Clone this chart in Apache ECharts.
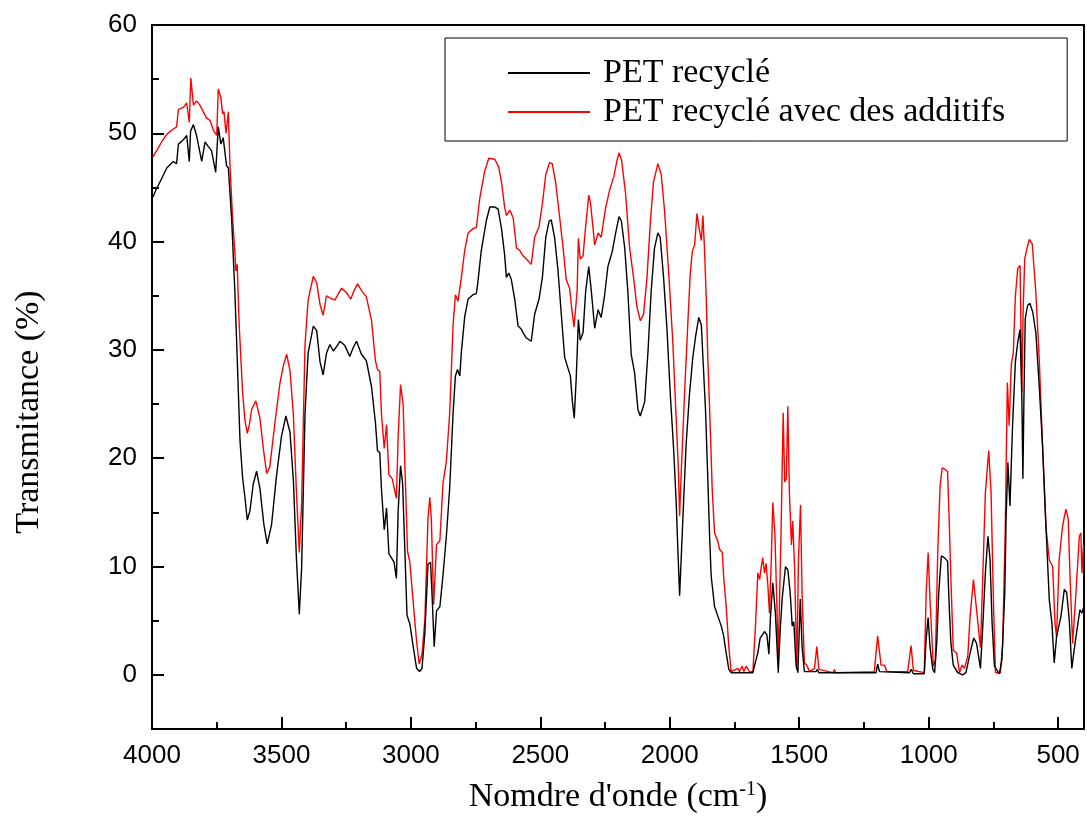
<!DOCTYPE html>
<html>
<head>
<meta charset="utf-8">
<script src="https://cdn.jsdelivr.net/npm/echarts@6/dist/echarts.min.js"></script>
<style>
  html, body { margin: 0; padding: 0; background: #fff; }
  #chart { width: 1087px; height: 830px; }
</style>
</head>
<body>
<div id="chart"></div>
<script>
// spectre IR
const seriesNames = ['PET recyclé', 'PET recyclé avec des additifs']

const blackWn = [3997, 3982, 3963, 3943, 3918, 3905, 3898, 3879, 3866, 3856, 3851, 3840, 3828, 3808, 3795, 3783, 3770, 3754, 3744, 3734, 3725, 3712, 3705, 3692, 3680, 3673, 3660, 3650, 3641, 3632, 3622, 3609, 3596, 3583, 3568, 3555, 3538, 3519, 3500, 3483, 3467, 3454, 3442, 3431, 3422, 3409, 3397, 3377, 3364, 3351, 3339, 3326, 3313, 3300, 3287, 3274, 3255, 3236, 3223, 3210, 3191, 3172, 3152, 3137, 3129, 3120, 3114, 3103, 3094, 3085, 3075, 3065, 3056, 3049, 3040, 3032, 3024, 3015, 3004, 2991, 2978, 2966, 2957, 2946, 2934, 2924, 2917, 2910, 2901, 2888, 2876, 2863, 2850, 2837, 2828, 2820, 2811, 2805, 2792, 2779, 2760, 2747, 2741, 2728, 2708, 2695, 2676, 2663, 2650, 2638, 2631, 2622, 2612, 2599, 2586, 2573, 2567, 2554, 2535, 2522, 2505, 2492, 2479, 2466, 2458, 2445, 2432, 2419, 2406, 2393, 2384, 2376, 2369, 2361, 2353, 2346, 2335, 2325, 2313, 2303, 2290, 2277, 2265, 2252, 2239, 2222, 2209, 2196, 2187, 2174, 2162, 2149, 2136, 2123, 2114, 2097, 2084, 2072, 2059, 2046, 2037, 2024, 2011, 1998, 1985, 1975, 1969, 1962, 1956, 1947, 1937, 1924, 1911, 1900, 1888, 1878, 1872, 1862, 1853, 1846, 1840, 1827, 1814, 1801, 1792, 1782, 1772, 1763, 1679, 1669, 1660, 1651, 1634, 1625, 1617, 1611, 1602, 1592, 1581, 1574, 1566, 1553, 1544, 1535, 1527, 1521, 1512, 1505, 1496, 1489, 1480, 1435, 1430, 1424, 1203, 1197, 1190, 1074, 1067, 1059, 1017, 1010, 1002, 995, 990, 984, 977, 969, 961, 951, 939, 927, 920, 914, 905, 888, 869, 856, 840, 826, 815, 800, 791, 781, 771, 763, 755, 746, 727, 717, 706, 701, 694, 686, 676, 665, 656, 647, 640, 636, 632, 627, 618, 609, 598, 586, 573, 560, 547, 534, 524, 515, 506, 489, 476, 467, 457, 447, 438, 425, 416, 408, 402]
const blackT = [44.1, 44.9, 45.8, 46.8, 47.4, 47.2, 49.0, 49.4, 49.8, 47.4, 50.2, 50.8, 49.8, 47.4, 49.2, 48.8, 48.4, 46.4, 50.6, 49.0, 49.6, 47.0, 46.8, 41.9, 35.4, 30.7, 21.6, 18.2, 16.4, 14.3, 15.1, 17.6, 18.8, 17.2, 13.9, 12.1, 13.9, 18.4, 22.0, 23.9, 22.4, 18.0, 10.7, 5.6, 9.9, 24.1, 29.7, 32.2, 31.8, 28.9, 27.7, 29.7, 30.5, 29.9, 30.3, 30.8, 30.4, 29.4, 30.2, 30.8, 29.6, 29.0, 26.6, 23.3, 20.7, 20.5, 17.3, 13.4, 15.4, 11.2, 10.8, 10.4, 8.9, 15.2, 19.3, 17.7, 12.0, 5.5, 4.7, 2.6, 0.6, 0.3, 0.6, 3.9, 10.2, 10.4, 6.7, 2.6, 5.9, 6.3, 9.2, 12.8, 17.3, 24.2, 27.6, 28.2, 27.6, 29.8, 33.1, 34.7, 35.1, 35.2, 36.3, 39.2, 42.0, 43.2, 43.2, 43.0, 41.2, 38.8, 36.7, 37.1, 36.5, 34.7, 32.2, 31.9, 31.6, 31.1, 30.8, 33.3, 34.7, 36.7, 40.4, 41.9, 42.0, 40.4, 37.4, 33.3, 29.3, 28.3, 27.6, 25.2, 23.7, 27.6, 32.8, 30.9, 31.6, 35.4, 37.7, 35.4, 32.0, 33.7, 33.0, 35.0, 37.7, 39.1, 40.8, 42.3, 41.9, 39.4, 35.4, 29.6, 27.9, 24.5, 23.9, 25.2, 29.9, 35.4, 39.4, 40.8, 40.4, 36.7, 32.0, 25.9, 20.8, 15.8, 11.7, 7.3, 10.7, 15.8, 21.2, 25.9, 29.3, 31.3, 33.0, 32.3, 29.3, 24.5, 18.0, 12.7, 9.1, 6.3, 5.4, 4.5, 3.6, 2.0, 0.5, 0.2, 0.2, 1.2, 2.0, 3.4, 4.0, 3.7, 1.9, 5.4, 8.5, 5.7, 0.2, 3.9, 7.0, 10.0, 9.7, 7.6, 4.5, 4.9, 0.8, 0.2, 7.0, 2.6, 0.3, 0.3, 0.5, 0.2, 0.2, 1.0, 0.3, 0.2, 0.5, 0.1, 0.1, 3.2, 5.3, 2.6, 2.5, 0.5, 0.2, 2.9, 7.6, 11.0, 10.8, 10.5, 6.0, 2.9, 0.9, 0.2, 0.0, 0.2, 2.0, 3.4, 2.9, 0.6, 4.5, 9.4, 12.8, 10.7, 4.8, 0.8, 0.1, 1.4, 7.6, 14.4, 19.6, 15.6, 23.0, 28.9, 30.7, 31.9, 25.5, 18.1, 25.5, 32.9, 34.1, 34.3, 33.5, 31.6, 26.7, 21.1, 13.7, 6.9, 4.8, 1.1, 3.5, 5.4, 7.9, 7.6, 5.1, 0.6, 2.3, 4.5, 6.0, 5.7, 6.2]

const redWn = [3997, 3982, 3963, 3943, 3918, 3905, 3898, 3879, 3866, 3856, 3850, 3840, 3828, 3815, 3802, 3789, 3776, 3761, 3750, 3744, 3734, 3727, 3722, 3714, 3705, 3699, 3689, 3680, 3676, 3671, 3663, 3650, 3641, 3632, 3624, 3615, 3599, 3583, 3570, 3557, 3545, 3525, 3506, 3493, 3480, 3467, 3454, 3442, 3431, 3422, 3409, 3397, 3377, 3364, 3351, 3339, 3326, 3313, 3294, 3268, 3249, 3232, 3219, 3206, 3191, 3172, 3152, 3137, 3129, 3120, 3114, 3103, 3094, 3085, 3072, 3065, 3056, 3049, 3040, 3030, 3021, 3013, 3004, 2991, 2978, 2968, 2957, 2946, 2934, 2927, 2921, 2912, 2901, 2888, 2876, 2863, 2850, 2837, 2828, 2818, 2805, 2792, 2779, 2760, 2747, 2734, 2715, 2699, 2676, 2661, 2650, 2638, 2631, 2618, 2605, 2592, 2580, 2567, 2554, 2535, 2522, 2505, 2492, 2479, 2464, 2454, 2441, 2428, 2412, 2400, 2387, 2378, 2370, 2358, 2353, 2346, 2335, 2325, 2313, 2306, 2290, 2277, 2265, 2248, 2232, 2216, 2204, 2196, 2186, 2171, 2155, 2140, 2127, 2114, 2101, 2088, 2075, 2063, 2046, 2033, 2020, 2003, 1988, 1975, 1967, 1962, 1955, 1943, 1930, 1921, 1913, 1904, 1895, 1888, 1878, 1872, 1866, 1859, 1853, 1846, 1836, 1827, 1814, 1808, 1797, 1792, 1782, 1772, 1763, 1737, 1731, 1720, 1714, 1705, 1692, 1679, 1669, 1660, 1653, 1647, 1641, 1634, 1628, 1621, 1615, 1608, 1602, 1594, 1581, 1571, 1562, 1556, 1550, 1544, 1538, 1530, 1525, 1518, 1509, 1503, 1495, 1489, 1480, 1471, 1460, 1441, 1432, 1424, 1370, 1364, 1358, 1210, 1197, 1184, 1171, 1162, 1081, 1068, 1059, 1017, 1010, 1002, 995, 990, 982, 974, 965, 956, 948, 939, 927, 920, 914, 905, 892, 881, 871, 862, 849, 840, 827, 815, 800, 791, 781, 768, 759, 749, 742, 723, 714, 704, 696, 689, 681, 673, 665, 656, 647, 640, 635, 629, 618, 611, 600, 586, 573, 560, 547, 534, 521, 512, 506, 496, 483, 470, 461, 454, 444, 431, 418, 412, 408, 402]
const redT = [47.8, 48.4, 49.2, 49.9, 50.4, 50.6, 52.2, 52.4, 52.8, 51.0, 55.1, 52.6, 53.0, 52.6, 52.0, 51.4, 51.2, 50.2, 49.8, 54.1, 53.3, 51.8, 52.0, 50.0, 52.0, 47.2, 42.3, 39.1, 37.3, 37.9, 32.2, 26.1, 23.5, 22.3, 23.1, 24.5, 25.3, 23.7, 20.9, 18.6, 19.2, 23.3, 26.9, 28.5, 29.6, 28.1, 24.1, 16.8, 11.3, 15.9, 30.5, 34.6, 36.8, 36.2, 34.2, 33.2, 35.0, 34.8, 34.6, 35.7, 35.3, 34.7, 35.5, 36.1, 35.5, 34.9, 32.7, 29.0, 28.2, 28.0, 24.2, 20.9, 23.1, 18.5, 18.1, 18.1, 16.3, 22.1, 26.8, 25.0, 17.7, 11.4, 10.4, 6.7, 3.1, 1.0, 1.9, 5.1, 14.4, 16.4, 14.4, 6.5, 12.0, 12.4, 17.7, 19.7, 24.2, 32.3, 35.1, 34.5, 36.7, 39.2, 40.8, 41.2, 41.3, 44.0, 46.5, 47.7, 47.6, 46.9, 45.5, 43.2, 42.4, 42.9, 42.2, 39.4, 39.2, 38.7, 38.4, 37.9, 40.4, 41.4, 43.5, 46.2, 47.3, 47.2, 45.5, 42.8, 39.4, 36.5, 35.7, 33.7, 32.1, 35.4, 40.3, 38.4, 38.7, 41.4, 44.3, 43.5, 39.7, 40.8, 40.4, 43.1, 44.8, 46.0, 47.5, 48.2, 47.5, 44.5, 39.4, 36.7, 34.0, 32.7, 33.3, 36.7, 41.8, 45.5, 47.2, 46.2, 42.8, 36.7, 30.6, 23.5, 19.1, 14.7, 19.1, 25.9, 32.6, 37.0, 39.1, 39.7, 42.6, 41.4, 40.1, 42.4, 39.4, 34.7, 29.2, 24.5, 17.1, 13.1, 12.3, 11.6, 11.3, 9.1, 6.3, 2.6, 0.3, 0.6, 0.3, 0.8, 0.3, 0.8, 0.3, 0.3, 4.5, 9.4, 8.8, 9.9, 10.8, 9.4, 10.3, 8.2, 5.7, 10.6, 15.9, 13.1, 1.7, 12.2, 24.2, 17.8, 18.1, 24.8, 16.8, 12.0, 14.2, 10.0, 0.5, 10.6, 15.7, 7.6, 1.1, 0.9, 0.3, 0.6, 2.6, 0.5, 0.2, 0.5, 0.2, 0.3, 3.6, 0.9, 0.9, 0.3, 0.3, 2.7, 0.4, 0.2, 7.3, 11.3, 7.0, 7.0, 0.8, 1.4, 11.3, 17.4, 19.1, 19.0, 18.8, 13.7, 8.8, 2.3, 2.0, 0.2, 0.9, 0.6, 1.7, 5.4, 8.8, 6.0, 2.5, 9.1, 16.8, 20.7, 16.8, 6.0, 0.2, 0.2, 2.9, 13.7, 27.0, 23.0, 28.6, 29.8, 35.0, 37.5, 37.8, 26.1, 33.8, 38.4, 39.6, 40.2, 39.8, 35.3, 29.2, 21.1, 13.7, 10.6, 10.0, 4.8, 3.5, 10.6, 13.7, 15.3, 14.4, 9.1, 2.9, 7.6, 12.8, 13.1, 9.4, 12.0]

const xLabels = [4000, 3500, 3000, 2500, 2000, 1500, 1000, 500]
const yLabels = [0, 10, 20, 30, 40, 50, 60]
const xMajorTicks = [3500, 3000, 2500, 2000, 1500, 1000, 500]
const xMinorTicks = [3750, 3250, 2750, 2250, 1750, 1250, 750]
const yMajorTicks = [0, 10, 20, 30, 40, 50]
const yMinorTicks = [5, 15, 25, 35, 45, 55]

const pairs = (xs, ys) => xs.map((x, i) => [x, ys[i]])

const sansFont = '"Liberation Sans", Arial, sans-serif'
const serifFont = '"Liberation Serif", "Times New Roman", serif'

const myChart = echarts.init(document.getElementById('chart'), null, { renderer: 'canvas' })

const baseX = {
  type: 'value',
  inverse: true,
  min: 400,
  max: 4000,
  gridIndex: 0,
  position: 'bottom',
  splitLine: { show: false }
}
const baseY = {
  type: 'value',
  min: -5,
  max: 60,
  gridIndex: 0,
  position: 'left',
  splitLine: { show: false }
}
const tickStyle = { color: '#000', width: 2 }
// axe qui ne porte que des graduations (offset négatif = décalé vers l'intérieur)
const tickAxis = (base, values, len, offset) => Object.assign({}, base, {
  offset: offset || 0,
  axisLine: { show: false, onZero: false },
  axisTick: { show: true, inside: true, length: len, customValues: values, lineStyle: tickStyle },
  axisLabel: { show: false }
})

const option = {
  animation: false,
  backgroundColor: '#fff',
  grid: {
    left: 152,
    right: 3,
    top: 25,
    bottom: 101,
    show: true,
    borderColor: '#000',
    borderWidth: 2,
    backgroundColor: 'transparent'
  },
  legend: {
    orient: 'vertical',
    left: 445,
    top: 38,
    padding: [18, 62, 12, 63],
    itemGap: 5,
    itemWidth: 82,
    itemHeight: 2,
    icon: 'rect',
    borderColor: '#000',
    borderWidth: 1,
    textStyle: {
      fontFamily: serifFont,
      fontSize: 34,
      color: '#000',
      lineHeight: 30,
      padding: [0, 0, 0, 8]
    },
    data: seriesNames
  },
  xAxis: [
    Object.assign({}, baseX, {
      name: "Nomdre d'onde (cm{sup|-1})",
      nameLocation: 'middle',
      nameGap: 51,
      nameTextStyle: {
        fontFamily: serifFont,
        fontSize: 34,
        color: '#000',
        rich: {
          sup: { fontFamily: serifFont, fontSize: 20, color: '#000', verticalAlign: 'top', padding: [0, 0, 15, 0] }
        }
      },
      axisLine: { show: true, onZero: false, lineStyle: { color: '#000', width: 2 } },
      axisTick: { show: false },
      axisLabel: { customValues: xLabels, color: '#000', fontFamily: sansFont, fontSize: 26, margin: 14, formatter: v => String(v) }
    }),
    tickAxis(baseX, xMajorTicks, 7),
    tickAxis(baseX, xMajorTicks, 7, -5),
    tickAxis(baseX, xMinorTicks, 7)
  ],
  yAxis: [
    Object.assign({}, baseY, {
      name: 'Transmitance (%)',
      nameLocation: 'middle',
      nameGap: 106,
      nameTextStyle: { fontFamily: serifFont, fontSize: 34, color: '#000', padding: [0, 70, 0, 0] },
      axisLine: { show: true, onZero: false, lineStyle: { color: '#000', width: 2 } },
      axisTick: { show: false },
      axisLabel: { customValues: yLabels, color: '#000', fontFamily: sansFont, fontSize: 26, margin: 15, formatter: v => String(v) }
    }),
    tickAxis(baseY, yMajorTicks, 7),
    tickAxis(baseY, yMajorTicks, 7, -5),
    tickAxis(baseY, yMinorTicks, 7)
  ],
  series: [
    {
      name: seriesNames[0],
      type: 'line',
      xAxisIndex: 0,
      yAxisIndex: 0,
      data: pairs(blackWn, blackT),
      showSymbol: false,
      smooth: false,
      color: '#000',
      lineStyle: { color: '#000', width: 1.4 },
      z: 3
    },
    {
      name: seriesNames[1],
      type: 'line',
      xAxisIndex: 0,
      yAxisIndex: 0,
      data: pairs(redWn, redT),
      showSymbol: false,
      smooth: false,
      color: '#ff0000',
      lineStyle: { color: '#ff0000', width: 1.4 },
      z: 2
    }
  ]
}
myChart.setOption(option)
</script>
</body>
</html>
